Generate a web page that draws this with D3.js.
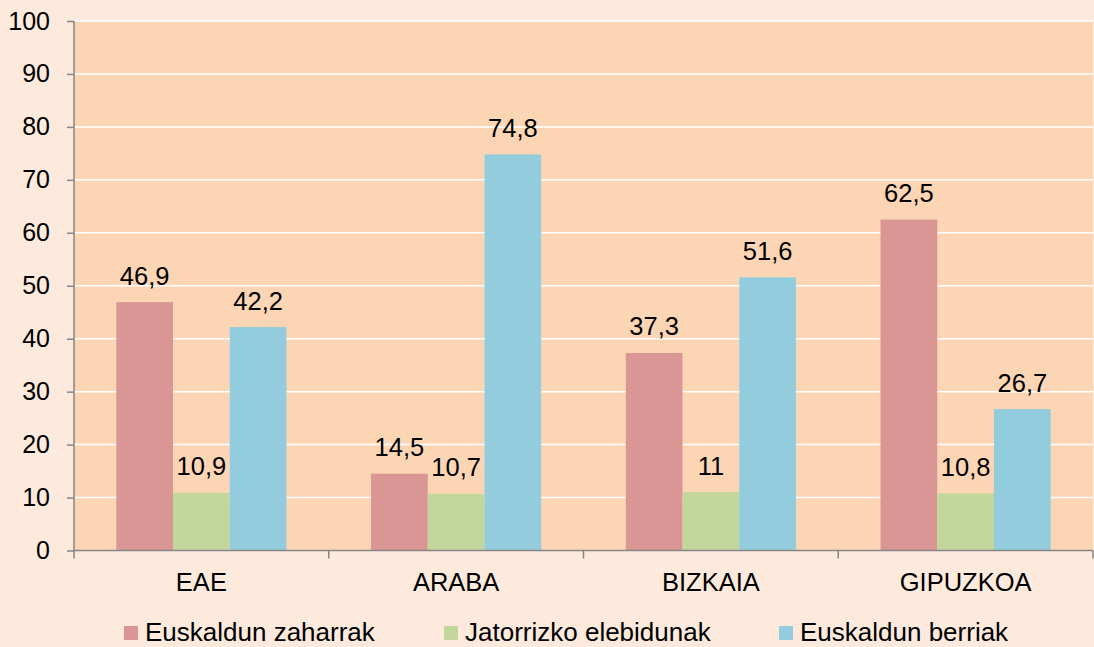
<!DOCTYPE html>
<html>
<head>
<meta charset="utf-8">
<script src="https://cdn.jsdelivr.net/npm/d3@7"></script>
<style>
html,body{margin:0;padding:0;background:#FDEADC;}
svg{display:block;font-family:"Liberation Sans",Arial,sans-serif;}
</style>
</head>
<body>
<svg id="chart" width="1094" height="647"></svg>
<script>
const categories = ["EAE", "ARABA", "BIZKAIA", "GIPUZKOA"];
const seriesNames = ["Euskaldun zaharrak", "Jatorrizko elebidunak", "Euskaldun berriak"];
const zaharrak = [46.9, 14.5, 37.3, 62.5];
const elebidunak = [10.9, 10.7, 11, 10.8];
const berriak = [42.2, 74.8, 51.6, 26.7];
const yTicks = [0, 10, 20, 30, 40, 50, 60, 70, 80, 90, 100];
const colors = ["#D99694", "#C3D69B", "#93CDDD"];

const seriesValues = [zaharrak, elebidunak, berriak];
const svg = d3.select("#chart");
const W = 1094, H = 647;
const m = {left: 74, right: 1, top: 21, bottom: 96.5};
const pw = W - m.left - m.right, ph = H - m.top - m.bottom;

svg.append("rect").attr("width", W).attr("height", H).attr("fill", "#FDEADC");

const x0 = d3.scaleBand().domain(categories).range([m.left, m.left + pw]).padding(0);
const x1 = d3.scaleBand().domain(seriesNames).range([0, x0.bandwidth()]).paddingInner(0).paddingOuter(0.746);
const y = d3.scaleLinear().domain([0, 100]).range([m.top + ph, m.top]);

svg.append("rect").attr("x", m.left).attr("y", m.top).attr("width", pw).attr("height", ph).attr("fill", "#FCD5B4");

// gridlines
svg.append("g").selectAll("line").data(yTicks.filter(d => d > 0)).join("line")
  .attr("x1", m.left).attr("x2", m.left + pw)
  .attr("y1", d => y(d)).attr("y2", d => y(d))
  .attr("stroke", "#ffffff").attr("stroke-width", 1.5);

// bars
const groups = svg.append("g").selectAll("g").data(categories).join("g")
  .attr("transform", d => `translate(${x0(d)},0)`);
groups.selectAll("rect").data((c, i) => seriesNames.map((s, j) => ({s, j, v: seriesValues[j][i]}))).join("rect")
  .attr("x", d => x1(d.s)).attr("width", x1.bandwidth())
  .attr("y", d => y(d.v)).attr("height", d => y(0) - y(d.v))
  .attr("fill", d => colors[d.j]);
groups.selectAll("text").data((c, i) => seriesNames.map((s, j) => ({s, j, v: seriesValues[j][i]}))).join("text")
  .attr("x", d => x1(d.s) + x1.bandwidth() / 2)
  .attr("y", d => y(d.v) - 17.5)
  .attr("text-anchor", "middle").attr("font-size", 25.5).attr("fill", "#000")
  .text(d => String(d.v).replace(".", ","));

// y axis
const yAxis = svg.append("g").attr("transform", `translate(${m.left},0)`)
  .call(d3.axisLeft(y).tickValues(yTicks).tickSize(7).tickPadding(17));
yAxis.select(".domain").attr("stroke", "#868686").attr("stroke-width", 1.5).attr("d", `M0,${y(100)}V${y(0)}`);
yAxis.selectAll(".tick line").attr("stroke", "#868686").attr("stroke-width", 1.5);
yAxis.selectAll(".tick text").attr("font-size", 25).attr("fill", "#000").attr("font-family", "Liberation Sans, Arial, sans-serif");

// x axis
const xAxis = svg.append("g").attr("transform", `translate(0,${y(0)})`)
  .call(d3.axisBottom(x0).tickSize(0).tickPadding(22));
xAxis.select(".domain").attr("stroke", "#868686").attr("stroke-width", 1.5).attr("d", `M${m.left},0H${m.left + pw}`);
xAxis.selectAll(".tick text").attr("font-size", 25.5).attr("fill", "#000").attr("font-family", "Liberation Sans, Arial, sans-serif");
const boundaries = categories.map(c => x0(c)).concat([x0(categories[categories.length - 1]) + x0.bandwidth()]);
xAxis.selectAll("line.bnd").data(boundaries).join("line").attr("class", "bnd")
  .attr("x1", d => d).attr("x2", d => d).attr("y1", 0).attr("y2", 8)
  .attr("stroke", "#868686").attr("stroke-width", 1.5);

// legend
const legendX = [124, 444, 779];
const lg = svg.append("g").selectAll("g").data(seriesNames).join("g")
  .attr("transform", (d, i) => `translate(${legendX[i]},626)`);
lg.append("rect").attr("width", 14).attr("height", 14).attr("fill", (d, i) => colors[i]);
lg.append("text").attr("x", 21).attr("y", 15).attr("font-size", 26).attr("fill", "#000").text(d => d);
</script>
</body>
</html>
